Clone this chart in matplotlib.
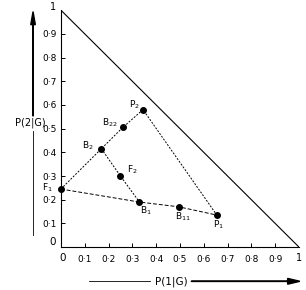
import numpy as np
import matplotlib.pyplot as plt

# points
names = ['F1', 'B2', 'B22', 'P2', 'F2', 'B1', 'B11', 'P1']
px = [0.0, 0.17, 0.26, 0.345, 0.25, 0.33, 0.495, 0.655]
py = [0.245, 0.415, 0.505, 0.58, 0.30, 0.19, 0.17, 0.135]
labels = ['F$_1$', 'B$_2$', 'B$_{22}$', 'P$_2$', 'F$_2$', 'B$_1$', 'B$_{11}$', 'P$_1$']

# dashed paths through the points
path_upper = ['F1', 'B2', 'B22', 'P2', 'P1']
path_mid = ['B2', 'F2', 'B1']
path_lower = ['F1', 'B1', 'B11', 'P1']

ticks = [0.1, 0.2, 0.3, 0.4, 0.5, 0.6, 0.7, 0.8, 0.9]
tick_labels = ['0·1', '0·2', '0·3', '0·4', '0·5', '0·6', '0·7', '0·8', '0·9']

pos = {n: (x, y) for n, x, y in zip(names, px, py)}

fig = plt.figure(figsize=(3.06, 2.90), dpi=100)
ax = fig.add_axes([0.199, 0.148, 0.778, 0.817])
ax.set_xlim(0, 1)
ax.set_ylim(0, 1)
for s in ['top', 'right']:
    ax.spines[s].set_visible(False)
for s in ['left', 'bottom']:
    ax.spines[s].set_linewidth(0.8)

# triangle side
ax.plot([0, 1], [1, 0], color='black', lw=0.8)

def draw_path(p, dashes):
    xs = [pos[n][0] for n in p]
    ys = [pos[n][1] for n in p]
    ax.plot(xs, ys, color='black', lw=0.7, dashes=dashes, clip_on=False)

draw_path(path_upper, (2, 1.5))
draw_path(path_mid, (2, 1.5))
draw_path(path_lower, (4, 2))

ax.scatter(px, py, s=16, color='black', zorder=3, clip_on=False)

# label offsets in pixels
offsets = {'F1': (-14, 1), 'B2': (-14, 3), 'B22': (-13, 5), 'P2': (-9, 5),
           'F2': (12, 6), 'B1': (6, -9), 'B11': (4, -10), 'P1': (2, -10)}
for n, lab in zip(names, labels):
    dx, dy = offsets[n]
    ax.annotate(lab, pos[n], xytext=(dx, dy), textcoords='offset pixels',
                fontsize=6.5, ha='center', va='center')

ax.set_xticks(ticks)
ax.set_xticklabels(tick_labels)
ax.set_yticks(ticks)
ax.set_yticklabels(tick_labels)
ax.tick_params(direction='in', length=3, width=0.7, labelsize=6.5)
ax.tick_params(axis='y', pad=3)
ax.tick_params(axis='x', pad=6)

fig.text(0.205, 0.11, '0', fontsize=7.5, ha='center', va='center')
fig.text(0.977, 0.11, '1', fontsize=7, ha='center', va='center')
fig.text(0.172, 0.165, '0', fontsize=7.5, ha='center', va='center')
fig.text(0.172, 0.975, '1', fontsize=7, ha='center', va='center')

# axis labels with arrows
fig.text(0.098, 0.576, 'P(2|G)', fontsize=7, ha='center', va='center')
fig.add_artist(plt.Line2D([0.108, 0.108], [0.19, 0.55], color='black', lw=0.6))
fig.add_artist(plt.matplotlib.patches.FancyArrow(0.108, 0.60, 0, 0.36, width=0.001,
               head_width=0.015, head_length=0.045, color='black',
               length_includes_head=True))

fig.text(0.56, 0.03, 'P(1|G)', fontsize=7.5, ha='center', va='center')
fig.add_artist(plt.Line2D([0.29, 0.49], [0.03, 0.03], color='black', lw=0.6))
fig.add_artist(plt.matplotlib.patches.FancyArrow(0.625, 0.03, 0.355, 0, width=0.001,
               head_width=0.02, head_length=0.04, color='black',
               length_includes_head=True))

fig.savefig('out.png', dpi=100)
